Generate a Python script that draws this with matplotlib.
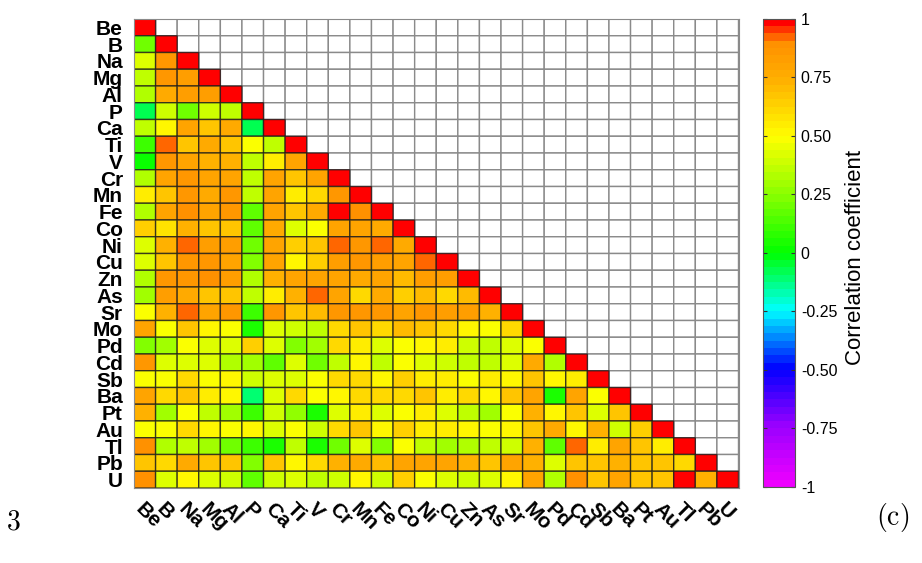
import numpy as np
import matplotlib
matplotlib.use('Agg')
import matplotlib.pyplot as plt
from matplotlib.colors import LinearSegmentedColormap, ListedColormap, Normalize
from matplotlib.cm import ScalarMappable

plt.rcParams['font.family'] = ['Liberation Sans', 'DejaVu Sans']
plt.rcParams['mathtext.fontset'] = 'cm'

elements = ['Be', 'B', 'Na', 'Mg', 'Al', 'P', 'Ca', 'Ti', 'V', 'Cr', 'Mn', 'Fe', 'Co', 'Ni',
            'Cu', 'Zn', 'As', 'Sr', 'Mo', 'Pd', 'Cd', 'Sb', 'Ba', 'Pt', 'Au', 'Tl', 'Pb', 'U']

# lower triangle of the correlation matrix, row i holds r(i, 0..i-1)
lower_rows = [
    [0.20],
    [0.43, 0.86],
    [0.35, 0.86, 0.83],
    [0.33, 0.77, 0.83, 0.83],
    [-0.08, 0.38, 0.20, 0.39, 0.35],
    [0.36, 0.50, 0.79, 0.67, 0.76, -0.08],
    [0.10, 0.93, 0.68, 0.76, 0.67, 0.47, 0.37],
    [0.02, 0.86, 0.79, 0.74, 0.73, 0.37, 0.56, 0.79],
    [0.33, 0.79, 0.86, 0.79, 0.81, 0.37, 0.79, 0.68, 0.79],
    [0.56, 0.67, 0.86, 0.76, 0.86, 0.37, 0.79, 0.56, 0.61, 0.86],
    [0.33, 0.79, 0.90, 0.79, 0.86, 0.17, 0.79, 0.67, 0.76, 0.97, 0.90],
    [0.63, 0.58, 0.74, 0.67, 0.68, 0.17, 0.76, 0.43, 0.47, 0.79, 0.79, 0.76],
    [0.43, 0.74, 0.93, 0.83, 0.83, 0.20, 0.79, 0.65, 0.68, 0.93, 0.86, 0.93, 0.76],
    [0.41, 0.68, 0.86, 0.86, 0.79, 0.23, 0.79, 0.50, 0.65, 0.83, 0.86, 0.83, 0.79, 0.93],
    [0.33, 0.86, 0.86, 0.88, 0.83, 0.33, 0.74, 0.79, 0.79, 0.79, 0.76, 0.79, 0.71, 0.83, 0.83],
    [0.30, 0.83, 0.76, 0.67, 0.67, 0.37, 0.56, 0.74, 0.93, 0.79, 0.61, 0.76, 0.65, 0.71, 0.61,
     0.71],
    [0.47, 0.74, 0.93, 0.79, 0.86, 0.10, 0.86, 0.67, 0.71, 0.85, 0.86, 0.86, 0.79, 0.86, 0.83,
     0.83, 0.74],
    [0.79, 0.47, 0.68, 0.50, 0.47, 0.06, 0.43, 0.40, 0.37, 0.61, 0.68, 0.61, 0.71, 0.67, 0.61,
     0.50, 0.47, 0.61],
    [0.23, 0.30, 0.47, 0.43, 0.43, 0.65, 0.43, 0.23, 0.30, 0.61, 0.56, 0.43, 0.47, 0.50, 0.56,
     0.40, 0.37, 0.43, 0.47],
    [0.86, 0.41, 0.43, 0.41, 0.33, 0.30, 0.17, 0.43, 0.20, 0.37, 0.50, 0.37, 0.47, 0.43, 0.40,
     0.37, 0.37, 0.43, 0.76, 0.33],
    [0.47, 0.47, 0.60, 0.47, 0.50, 0.40, 0.43, 0.43, 0.47, 0.60, 0.61, 0.50, 0.65, 0.56, 0.56,
     0.47, 0.56, 0.50, 0.67, 0.50, 0.56],
    [0.79, 0.61, 0.67, 0.56, 0.50, -0.10, 0.43, 0.61, 0.47, 0.50, 0.61, 0.61, 0.61, 0.67, 0.56,
     0.61, 0.50, 0.67, 0.79, 0.06, 0.79, 0.47],
    [0.73, 0.30, 0.47, 0.37, 0.30, 0.10, 0.40, 0.27, 0.06, 0.43, 0.56, 0.43, 0.47, 0.56, 0.43,
     0.37, 0.30, 0.47, 0.74, 0.50, 0.68, 0.43, 0.67],
    [0.47, 0.47, 0.61, 0.50, 0.47, 0.50, 0.43, 0.47, 0.40, 0.61, 0.67, 0.50, 0.65, 0.56, 0.56,
     0.50, 0.47, 0.50, 0.67, 0.76, 0.50, 0.74, 0.40, 0.65],
    [0.88, 0.33, 0.37, 0.30, 0.20, 0.10, 0.06, 0.37, 0.06, 0.20, 0.43, 0.23, 0.47, 0.37, 0.30,
     0.33, 0.37, 0.40, 0.74, 0.17, 0.93, 0.56, 0.79, 0.67, 0.56],
    [0.67, 0.61, 0.76, 0.68, 0.68, 0.23, 0.67, 0.50, 0.61, 0.73, 0.76, 0.71, 0.79, 0.79, 0.79,
     0.74, 0.68, 0.79, 0.73, 0.43, 0.67, 0.67, 0.73, 0.67, 0.67, 0.61],
    [0.88, 0.43, 0.50, 0.43, 0.40, 0.17, 0.40, 0.43, 0.37, 0.40, 0.50, 0.40, 0.65, 0.47, 0.43,
     0.40, 0.43, 0.50, 0.79, 0.33, 0.88, 0.67, 0.79, 0.67, 0.67, 0.97, 0.73],
]

cbar_ticks = [-1, -0.75, -0.5, -0.25, 0, 0.25, 0.5, 0.75, 1]
cbar_labels = ['-1', '-0.75', '-0.50', '-0.25', '0', '0.25', '0.50', '0.75', '1']

# magenta -> blue -> cyan -> green -> yellow -> orange -> red, 64 steps
anchors = [(-1.0, '#ee00ff'), (-0.75, '#9900ff'), (-0.5, '#0000ff'), (-0.25, '#00ffff'),
           (0.0, '#00ff00'), (0.25, '#88ff00'), (0.5, '#ffff00'), (0.75, '#ffb000'),
           (0.91, '#ff9000'), (0.95, '#ff5000'), (1.0, '#ff0000')]
cmap = LinearSegmentedColormap.from_list(
    'corr', [((v + 1) / 2, c) for v, c in anchors], N=64)
norm = Normalize(-1, 1)

n = len(elements)
corr = np.full((n, n), np.nan)
for i, row in enumerate(lower_rows):
    corr[i + 1, :i + 1] = row
np.fill_diagonal(corr, 1.0)

W, H = 922, 563
fig = plt.figure(figsize=(W / 100, H / 100), dpi=100)
ax = fig.add_axes([134 / W, 1 - 488 / H, (738.5 - 134) / W, (488 - 19) / H])

# empty upper cells, light grid
upper = np.ma.masked_where(~np.isnan(corr), np.zeros((n, n)))
ax.pcolor(upper, cmap=ListedColormap(['white']), edgecolors='#8a8a8a', linewidth=1.0)
# correlation cells
ax.pcolor(np.ma.masked_invalid(corr), cmap=cmap, norm=norm,
          edgecolors=(0.1, 0.1, 0.1, 0.75), linewidth=1.0)

ax.set_xlim(0, n)
ax.set_ylim(n, 0)
ax.set_xticks(np.arange(n) + 0.5)
ax.set_yticks(np.arange(n) + 0.5)
ax.set_xticklabels(elements, rotation=-45, ha='left', va='top', rotation_mode='anchor',
                   fontsize=15, fontweight='bold')
ax.set_yticklabels(elements, fontsize=15, fontweight='bold')
ax.tick_params(length=0, pad=8)
for s in ax.spines.values():
    s.set_color('#8a8a8a')

cax = fig.add_axes([762.7 / W, 1 - 487 / H, 32.6 / W, (487 - 18.7) / H])
cb = fig.colorbar(ScalarMappable(norm=norm, cmap=cmap), cax=cax)
cb.set_ticks(cbar_ticks)
cb.set_ticklabels(cbar_labels)
cb.outline.set_edgecolor('#555555')
cb.outline.set_linewidth(0.8)
cax.tick_params(direction='in', left=True, right=True, length=3, width=0.8,
                labelsize=11.5, color='#333333', pad=4)

fig.text(855 / W, 1 - 257 / H, 'Correlation coefficient', rotation=90,
         ha='center', va='center', fontsize=16)

fig.text(13 / W, 1 - 522 / H, r'$\mathrm{3}$', ha='center', va='center', fontsize=20)
fig.text(893 / W, 1 - 518 / H, r'$\mathrm{(c)}$', ha='center', va='center', fontsize=20)

fig.savefig('out.png', dpi=100)
